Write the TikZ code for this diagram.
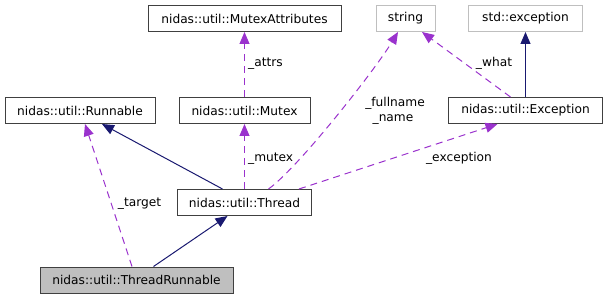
\documentclass[tikz,border=0pt]{standalone}
\usepackage{fontspec}
\setmainfont{DejaVu Sans}
\usetikzlibrary{arrows.meta}
\definecolor{inhcol}{HTML}{191970}
\definecolor{usecol}{HTML}{9A32CD}
\definecolor{extbord}{HTML}{BFBFBF}
\definecolor{boxbord}{HTML}{404040}
\tikzset{
  cls/.style={draw=boxbord, line width=1pt, rectangle, inner sep=0pt,
    minimum height=26pt, font=\fontsize{12.2}{14}\selectfont, fill=white},
  extcls/.style={cls, draw=extbord},
  curcls/.style={cls, fill=extbord},
  inherit/.style={draw=inhcol, line width=1pt,
    -{Triangle[length=12pt,width=10pt]}, fill=none},
  uses/.style={draw=usecol, line width=1pt, dash pattern=on 7pt off 5pt,
    -{Triangle[length=12pt,width=10pt,fill=usecol]}},
  lbl/.style={font=\fontsize{12.2}{15}\selectfont, inner sep=0pt, anchor=base}
}
\begin{document}
\begin{tikzpicture}[x=1pt, y=-1pt]
\useasboundingbox (0,0) rectangle (607,299);

% classes
\node[cls, minimum width=193pt]    (mattr)    at (244.5,18.5) {nidas::util::MutexAttributes};
\node[extcls, minimum width=59pt]  (string)   at (405.5,18.5) {string};
\node[extcls, minimum width=114pt] (stdexc)   at (525.5,18.5) {std::exception};
\node[cls, minimum width=150pt]    (runnable) at (80,110.5)   {nidas::util::Runnable};
\node[cls, minimum width=131pt]    (mutex)    at (244.5,110.5){nidas::util::Mutex};
\node[cls, minimum width=154pt]    (exc)      at (525.5,110.5){nidas::util::Exception};
\node[cls, minimum width=134pt]    (thread)   at (244.5,202.5){nidas::util::Thread};
\node[curcls, minimum width=193pt] (trun)     at (136.5,280)  {nidas::util::ThreadRunnable};

% inheritance
\draw[inherit] ([xshift=-22pt]thread.north) -- ([xshift=22pt]runnable.south);
\draw[inherit] ([xshift=17pt]trun.north) -- ([xshift=-17pt]thread.south);
\draw[inherit] (exc.north) -- (stdexc.south);

% usage relations
\draw[uses] (thread.north) -- (mutex.south);
\draw[uses] (mutex.north) -- (mattr.south);
\draw[uses] ([xshift=24pt]thread.north) .. controls (298,168) and (375,70) .. ([xshift=-7.5pt]string.south);
\draw[uses] ([xshift=-15pt]exc.north) -- ([xshift=16.5pt]string.south);
\draw[uses] ([xshift=-13pt]thread.north east) -- ([xshift=-28pt]exc.south);
\draw[uses] ([xshift=-4.5pt]trun.north) -- ([xshift=5pt]runnable.south);

% labels
\node[lbl, anchor=base west] (lmutex) at (248,161.5) {\_mutex};
\node[lbl, anchor=base west] (lattrs) at (248,66.5) {\_attrs};
\node[lbl] (lfull) at (395,106.5) {\_fullname};
\node[lbl] (lname) at (393,121.5) {\_name};
\node[lbl] (lwhat) at (494,66.5) {\_what};
\node[lbl] (lexc) at (459,161.5) {\_exception};
\node[lbl] (ltarget) at (139.5,206.5) {\_target};
\end{tikzpicture}
\end{document}
